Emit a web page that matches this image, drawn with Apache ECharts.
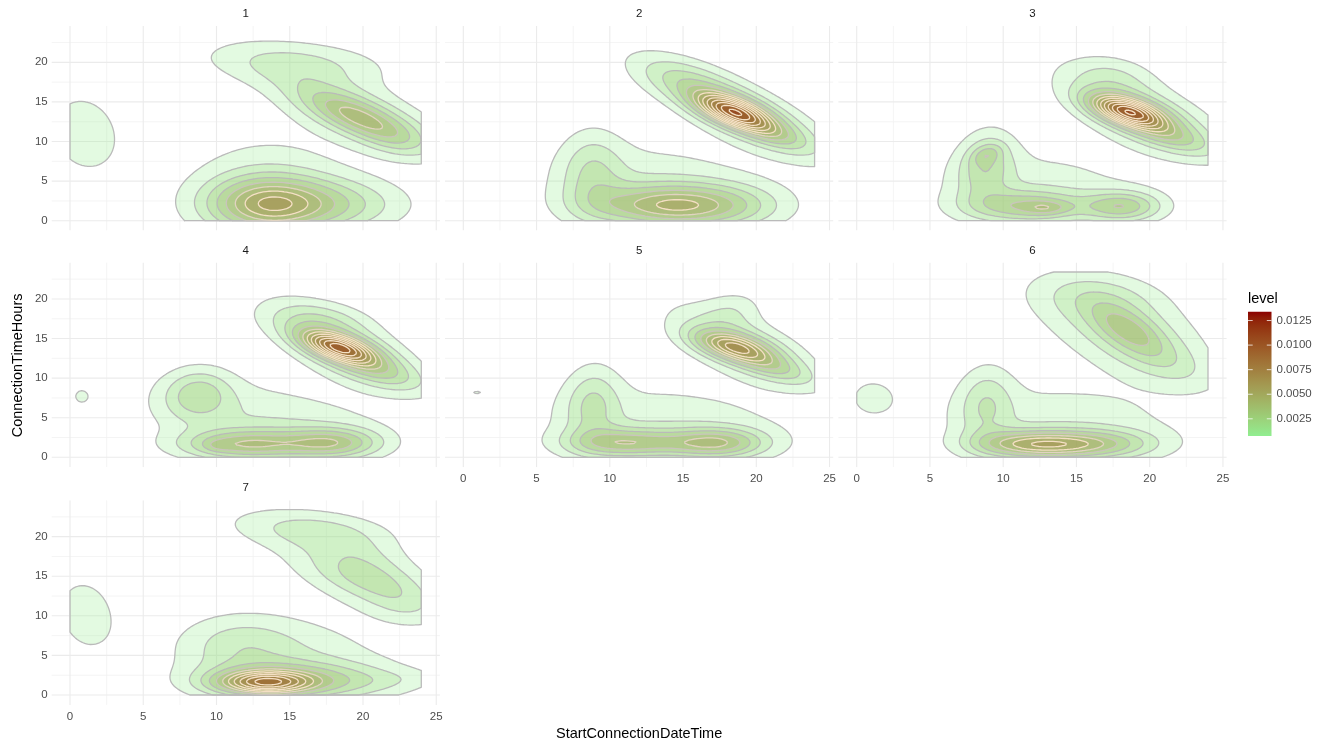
<!DOCTYPE html>
<html><head><meta charset="utf-8">
<script src="https://cdn.jsdelivr.net/npm/echarts@6/dist/echarts.min.js"></script>
<style>html,body{margin:0;padding:0;background:#fff}#c{width:1330px;height:744px}</style>
</head><body><div id="c"></div>
<script>
// ---------------- data ----------------
const facetLabels = ['1', '2', '3', '4', '5', '6', '7'];
const xMajorTicks = [0, 5, 10, 15, 20, 25];
const xMinorTicks = [2.5, 7.5, 12.5, 17.5, 22.5];
const yMajorTicks = [0, 5, 10, 15, 20];
const yMinorTicks = [2.5, 7.5, 12.5, 17.5, 22.5];
const contourLevels = [0.001, 0.002, 0.003, 0.004, 0.005, 0.006, 0.007, 0.008, 0.009, 0.010, 0.011, 0.012, 0.013];
const legendTicks = [0.0025, 0.0050, 0.0075, 0.0100, 0.0125];
const levelRange = [0.00075, 0.0134];
const dataRangeX = [0, 23.98];
const dataRangeY = [0, 23.4];
// density bumps per facet: [peak density, centre x, centre y, spread along tilt, spread across, tilt deg]
const facet1Bumps = [
  [0.0016, 1.0, 11.0, 4.2, 2.0, 95],
  [0.0019, 15.5, 20.0, 4.5, 2.0, -8],
  [0.0022, 19.5, 14.0, 5.5, 2.2, -40],
  [0.0043, 19.7, 13.0, 3.2, 1.3, -42],
  [0.0010, 22.5, 10.0, 2.0, 1.5, -40],
  [0.0042, 13.2, 2.1, 2.6, 2.4, 0],
  [0.0038, 16.5, 2.0, 4.0, 2.3, 0],
  [0.0015, 13.5, 4.5, 4.2, 5.2, 0]
];
const facet2Bumps = [
  [0.0034, 18.8, 14.0, 5.6, 1.9, -45],
  [0.0016, 15.0, 17.6, 2.8, 1.5, -40],
  [0.0088, 18.4, 13.8, 2.1, 1.05, -40],
  [0.0026, 20.8, 11.3, 2.3, 1.0, -40],
  [0.0052, 13.8, 1.9, 3.5, 1.8, 0],
  [0.0020, 18.0, 1.8, 3.0, 2.0, 0],
  [0.0022, 8.8, 6.0, 3.8, 1.5, 90],
  [0.0016, 13.0, 4.5, 5.5, 4.0, -10]
];
const facet3Bumps = [
  [0.0032, 19.5, 13.5, 4.8, 2.2, -45],
  [0.0012, 17.5, 18.5, 2.2, 1.8, -30],
  [0.0095, 18.5, 13.8, 2.0, 1.05, -35],
  [0.0026, 21.3, 10.8, 2.5, 1.1, -35],
  [0.0038, 11.5, 1.8, 2.8, 1.4, 0],
  [0.0015, 13.0, 1.6, 1.0, 0.6, 0],
  [0.0040, 18.2, 1.8, 1.8, 1.3, 0],
  [0.0030, 8.8, 7.0, 3.0, 1.3, 85],
  [0.0016, 8.9, 8.4, 0.9, 0.6, 60],
  [0.0015, 12.5, 4.0, 5.5, 3.8, -10]
];
const facet4Bumps = [
  [0.00096, 0.75, 7.7, 1.7, 0.95, 90],
  [0.0032, 18.6, 14.2, 4.6, 2.1, -48],
  [0.0012, 16.8, 17.5, 2.5, 1.5, -10],
  [0.0088, 18.3, 13.9, 2.0, 1.0, -35],
  [0.0025, 21.0, 11.0, 2.6, 1.2, -35],
  [0.0048, 12.0, 1.6, 3.0, 1.3, 0],
  [0.0043, 18.0, 1.8, 2.2, 1.3, 0],
  [0.0008, 10.1, 1.5, 0.6, 0.5, 0],
  [0.0028, 8.7, 8.0, 2.2, 1.6, 85],
  [0.0016, 11.5, 5.0, 5.0, 3.5, -25],
  [0.0008, 18.0, 3.5, 4.0, 3.0, -10]
];
const facet5Bumps = [
  [0.00088, 0.9, 8.2, 0.8, 0.6, 0],
  [0.0030, 19.0, 14.2, 4.3, 2.0, -45],
  [0.0012, 18.5, 18.8, 1.8, 1.4, 70],
  [0.0060, 18.4, 14.0, 2.0, 1.05, -30],
  [0.0024, 21.0, 11.5, 2.3, 1.0, -35],
  [0.0037, 10.5, 1.8, 2.5, 1.3, 0],
  [0.0042, 17.5, 1.8, 2.2, 1.3, 0],
  [0.0018, 14.0, 1.8, 3.0, 1.2, 0],
  [0.0024, 8.8, 6.8, 3.4, 1.3, 88],
  [0.0016, 14.0, 4.2, 6.5, 3.8, -8]
];
const facet6Bumps = [
  [0.0011, 1.0, 7.6, 2.6, 1.7, 90],
  [0.0025, 18.0, 16.5, 5.2, 3.0, -50],
  [0.0012, 16.5, 20.5, 3.0, 2.0, -10],
  [0.0030, 18.5, 16.2, 2.5, 1.2, -55],
  [0.0014, 21.0, 12.0, 3.0, 1.6, -45],
  [0.0060, 13.2, 1.6, 3.0, 1.2, 0],
  [0.0020, 17.5, 1.7, 2.5, 1.3, 0],
  [0.0015, 10.5, 1.7, 2.0, 1.2, 0],
  [0.0022, 8.8, 6.8, 3.4, 1.3, 88],
  [0.0016, 14.0, 4.2, 6.2, 3.8, -8]
];
const facet7Bumps = [
  [0.0014, 1.1, 10.2, 4.4, 1.9, 95],
  [0.0020, 16.5, 21.0, 4.0, 1.8, -10],
  [0.0018, 20.0, 15.0, 5.0, 2.4, -38],
  [0.0016, 20.5, 14.5, 3.0, 1.5, -38],
  [0.0008, 22.8, 11.0, 2.0, 1.5, -40],
  [0.0008, 20.0, 18.0, 2.5, 1.5, -40],
  [0.0068, 13.3, 1.6, 2.2, 1.0, 0],
  [0.0026, 13.5, 1.8, 3.5, 1.6, 0],
  [0.0018, 18.5, 1.8, 3.5, 1.6, 0],
  [0.0018, 15.0, 4.0, 5.0, 4.0, -8],
  [0.0016, 11.5, 6.5, 2.8, 2.6, 0],
  [0.0005, 23.0, 2.0, 2.5, 0.9, 5]
];
const facetBumps = [facet1Bumps, facet2Bumps, facet3Bumps, facet4Bumps, facet5Bumps, facet6Bumps, facet7Bumps];

// ---------------- layout & style ----------------
const colLeft = [51.7, 445.0, 838.4];
const rowTop = [25.9, 262.5, 500.2];
const panelW = 388.2, panelH = 204.7;
const facetRC = [[0, 0], [0, 1], [0, 2], [1, 0], [1, 1], [1, 2], [2, 0]];
const xBottomLabelled = [false, false, false, false, true, true, true];
const xExt = [-1.25, 25.25], yExt = [-1.25, 24.6];
const FONT = '"Liberation Sans", Arial, Helvetica, sans-serif';
const FILL_ALPHA = 0.26;
const LOW = '#90EE90', HIGH = '#8B0000';

// ---------------- colour helpers (Lab interpolation like ggplot) ----------------
function hex2rgb(h) { return [parseInt(h.slice(1, 3), 16), parseInt(h.slice(3, 5), 16), parseInt(h.slice(5, 7), 16)]; }
function toLin(c) { c /= 255; return c <= 0.04045 ? c / 12.92 : Math.pow((c + 0.055) / 1.055, 2.4); }
function fromLin(c) { c = c <= 0.0031308 ? 12.92 * c : 1.055 * Math.pow(c, 1 / 2.4) - 0.055; return Math.round(Math.max(0, Math.min(1, c)) * 255); }
function rgb2lab(rgb) {
  const R = toLin(rgb[0]), G = toLin(rgb[1]), B = toLin(rgb[2]);
  const X = (0.4124 * R + 0.3576 * G + 0.1805 * B) / 0.95047;
  const Y = (0.2126 * R + 0.7152 * G + 0.0722 * B);
  const Z = (0.0193 * R + 0.1192 * G + 0.9505 * B) / 1.08883;
  const f = t => t > 0.008856 ? Math.cbrt(t) : 7.787 * t + 16 / 116;
  const fx = f(X), fy = f(Y), fz = f(Z);
  return [116 * fy - 16, 500 * (fx - fy), 200 * (fy - fz)];
}
function lab2rgb(lab) {
  const fy = (lab[0] + 16) / 116, fx = fy + lab[1] / 500, fz = fy - lab[2] / 200;
  const fi = t => t > 0.206893 ? t * t * t : (t - 16 / 116) / 7.787;
  const X = fi(fx) * 0.95047, Y = fi(fy), Z = fi(fz) * 1.08883;
  const R = 3.2406 * X - 1.5372 * Y - 0.4986 * Z;
  const G = -0.9689 * X + 1.8758 * Y + 0.0415 * Z;
  const B = 0.0557 * X - 0.2040 * Y + 1.0570 * Z;
  return [fromLin(R), fromLin(G), fromLin(B)];
}
const labLow = rgb2lab(hex2rgb(LOW)), labHigh = rgb2lab(hex2rgb(HIGH));
function rampRGB(t) {
  t = Math.max(0, Math.min(1, t));
  return lab2rgb([0, 1, 2].map(k => labLow[k] + (labHigh[k] - labLow[k]) * t));
}
function levelT(v) { return (v - levelRange[0]) / (levelRange[1] - levelRange[0]); }
function mixHex(a, b, s) { const A = hex2rgb(a), B = hex2rgb(b); return 'rgb(' + A.map((x, k) => Math.round(x + (B[k] - x) * s)).join(',') + ')'; }
function lineColor(t) { const s = Math.max(0, Math.min(1, (t - 0.28) / 0.2)); return mixHex('#bababa', '#f4dfc4', s); }

// ---------------- density grids ----------------
const N = 121;
function densityGrid(bumps) {
  const xs = [], ys = [];
  for (let i = 0; i < N; i++) {
    xs.push(dataRangeX[0] + (dataRangeX[1] - dataRangeX[0]) * i / (N - 1));
    ys.push(dataRangeY[0] + (dataRangeY[1] - dataRangeY[0]) * i / (N - 1));
  }
  const pre = bumps.map(b => { const t = b[5] * Math.PI / 180; return { p: b[0], cx: b[1], cy: b[2], a: b[3], b: b[4], c: Math.cos(t), s: Math.sin(t) }; });
  const Z = [];
  for (let j = 0; j < N; j++) {
    const row = new Float64Array(N);
    for (let i = 0; i < N; i++) {
      let v = 0;
      for (const k of pre) {
        const dx = xs[i] - k.cx, dy = ys[j] - k.cy;
        const u = (dx * k.c + dy * k.s) / k.a, w = (-dx * k.s + dy * k.c) / k.b;
        v += k.p * Math.exp(-0.5 * (u * u + w * w));
      }
      row[i] = v;
    }
    Z.push(row);
  }
  return { xs, ys, Z };
}
const grids = facetBumps.map(densityGrid);

function levelPaths(G, L, coord) {
  const xs = G.xs, ys = G.ys, Z = G.Z, nx = xs.length, ny = ys.length;
  const f = [], l = [];
  const pt = (x, y) => { const c = coord([x, y]); return c[0].toFixed(2) + ' ' + c[1].toFixed(2); };
  const lerp = (p, q) => { const t = (L - p[2]) / (q[2] - p[2]); return [p[0] + (q[0] - p[0]) * t, p[1] + (q[1] - p[1]) * t]; };
  const rectPath = (i0, i1, j) => 'M' + pt(xs[i0], ys[j]) + 'L' + pt(xs[i1], ys[j]) + 'L' + pt(xs[i1], ys[j + 1]) + 'L' + pt(xs[i0], ys[j + 1]) + 'Z';
  for (let j = 0; j < ny - 1; j++) {
    let run = -1;
    for (let i = 0; i < nx - 1; i++) {
      const cs = [[xs[i], ys[j], Z[j][i]], [xs[i + 1], ys[j], Z[j][i + 1]], [xs[i + 1], ys[j + 1], Z[j + 1][i + 1]], [xs[i], ys[j + 1], Z[j + 1][i]]];
      const ins = cs.map(c => c[2] >= L);
      const nIn = (ins[0] ? 1 : 0) + (ins[1] ? 1 : 0) + (ins[2] ? 1 : 0) + (ins[3] ? 1 : 0);
      if (nIn === 4) { if (run < 0) run = i; }
      else {
        if (run >= 0) { f.push(rectPath(run, i, j)); run = -1; }
        if (nIn > 0) {
          const poly = [];
          for (let k = 0; k < 4; k++) {
            const a = cs[k], b = cs[(k + 1) % 4];
            if (ins[k]) poly.push({ p: [a[0], a[1]], x: false });
            if (ins[k] !== ins[(k + 1) % 4]) poly.push({ p: lerp(a, b), x: true });
          }
          f.push('M' + poly.map(q => pt(q.p[0], q.p[1])).join('L') + 'Z');
          for (let m = 0; m < poly.length; m++) {
            const q1 = poly[m], q2 = poly[(m + 1) % poly.length];
            if (q1.x && q2.x) l.push('M' + pt(q1.p[0], q1.p[1]) + 'L' + pt(q2.p[0], q2.p[1]));
          }
        }
      }
      if (nIn > 0) {
        const edge = (ka, kb) => {
          const a = cs[ka], b = cs[kb], ia = ins[ka], ib = ins[kb];
          if (!ia && !ib) return;
          let p = [a[0], a[1]], q = [b[0], b[1]];
          if (ia && !ib) q = lerp(a, b); else if (!ia && ib) p = lerp(a, b);
          l.push('M' + pt(p[0], p[1]) + 'L' + pt(q[0], q[1]));
        };
        if (j === 0) edge(0, 1);
        if (i === nx - 2) edge(1, 2);
        if (j === ny - 2) edge(2, 3);
        if (i === 0) edge(3, 0);
      }
    }
    if (run >= 0) f.push(rectPath(run, nx - 1, j));
  }
  return { fill: f.join(''), line: l.join('') };
}

function makeRender(fi) {
  return function (params, api) {
    const coord = p => api.coord(p);
    const children = [];
    const gridLines = (vals, vertical, color, w) => {
      let d = '';
      for (const v of vals) {
        const a = vertical ? coord([v, yExt[0]]) : coord([xExt[0], v]);
        const b = vertical ? coord([v, yExt[1]]) : coord([xExt[1], v]);
        d += 'M' + a[0] + ' ' + a[1] + 'L' + b[0] + ' ' + b[1];
      }
      children.push({ type: 'path', silent: true, shape: { pathData: d }, style: { fill: 'none', stroke: color, lineWidth: w } });
    };
    gridLines(xMinorTicks, true, '#f1f1f1', 0.8);
    gridLines(yMinorTicks, false, '#f1f1f1', 0.8);
    gridLines(xMajorTicks, true, '#ebebeb', 1.1);
    gridLines(yMajorTicks, false, '#ebebeb', 1.1);
    const G = grids[fi];
    for (const L of contourLevels) {
      const t = levelT(L);
      const rgb = rampRGB(t);
      const P = levelPaths(G, L, coord);
      if (!P.fill) continue;
      children.push({ type: 'path', silent: true, shape: { pathData: P.fill }, style: { fill: 'rgba(' + rgb.join(',') + ',' + FILL_ALPHA + ')', stroke: null } });
      children.push({ type: 'path', silent: true, shape: { pathData: P.line }, style: { fill: 'none', stroke: lineColor(t), lineWidth: 1.3, lineCap: 'round', lineJoin: 'round' } });
    }
    return { type: 'group', children };
  };
}

const isMult5 = v => Math.abs(v / 5 - Math.round(v / 5)) < 1e-6;
const gridOpt = [], xAxisOpt = [], yAxisOpt = [], seriesOpt = [], graphicOpt = [];
facetRC.forEach((rc, fi) => {
  const left = colLeft[rc[1]], top = rowTop[rc[0]];
  gridOpt.push({ left, top, width: panelW, height: panelH, containLabel: false, outerBoundsMode: 'none' });
  xAxisOpt.push({
    type: 'value', gridIndex: fi, min: xExt[0], max: xExt[1], interval: 1.25,
    axisLine: { show: false }, axisTick: { show: false }, splitLine: { show: false },
    axisLabel: { show: xBottomLabelled[fi], interval: 0, margin: 6, color: '#4d4d4d', fontSize: 11.5, fontFamily: FONT, formatter: v => isMult5(v) ? String(Math.round(v)) : '' }
  });
  yAxisOpt.push({
    type: 'value', gridIndex: fi, min: yExt[0], max: yExt[1], interval: 1.25,
    axisLine: { show: false }, axisTick: { show: false }, splitLine: { show: false },
    axisLabel: { show: rc[1] === 0, interval: 0, margin: 4, color: '#4d4d4d', fontSize: 11.5, fontFamily: FONT, formatter: v => (isMult5(v) && v >= 0 && v <= 20) ? String(Math.round(v)) : '' }
  });
  seriesOpt.push({
    type: 'custom', xAxisIndex: fi, yAxisIndex: fi, coordinateSystem: 'cartesian2d',
    data: [[0, 0]], clip: true, silent: true, animation: false, renderItem: makeRender(fi)
  });
  graphicOpt.push({ type: 'text', x: left + panelW / 2, y: top - 12, silent: true,
    style: { text: facetLabels[fi], fill: '#1a1a1a', fontSize: 11.5, fontFamily: FONT, align: 'center', verticalAlign: 'middle' } });
});

// axis titles
graphicOpt.push({ type: 'text', x: colLeft[1] + panelW / 2, y: 734, silent: true,
  style: { text: 'StartConnectionDateTime', fill: '#000', fontSize: 14.5, fontFamily: FONT, align: 'center', verticalAlign: 'middle' } });
graphicOpt.push({ type: 'text', x: 18, y: (rowTop[0] + rowTop[2] + panelH) / 2, rotation: Math.PI / 2, silent: true,
  style: { text: 'ConnectionTimeHours', fill: '#000', fontSize: 14.5, fontFamily: FONT, align: 'center', verticalAlign: 'middle' } });

// legend (colour bar)
const barX = 1248, barTop = 311.7, barW = 23.5, barH = 124.3;
const stops = [];
for (let k = 0; k <= 20; k++) { const t = k / 20; const c = rampRGB(t); stops.push({ offset: 1 - t, color: 'rgb(' + c.join(',') + ')' }); }
stops.sort((a, b) => a.offset - b.offset);
graphicOpt.push({ type: 'text', x: barX, y: 299, silent: true,
  style: { text: 'level', fill: '#000', fontSize: 14.5, fontFamily: FONT, align: 'left', verticalAlign: 'middle' } });
graphicOpt.push({ type: 'rect', silent: true, shape: { x: barX, y: barTop, width: barW, height: barH },
  style: { fill: new echarts.graphic.LinearGradient(0, 0, 0, 1, stops) } });
legendTicks.forEach(v => {
  const y = barTop + barH * (1 - levelT(v));
  graphicOpt.push({ type: 'line', silent: true, shape: { x1: barX, y1: y, x2: barX + barW * 0.2, y2: y }, style: { stroke: 'rgba(255,255,255,0.75)', lineWidth: 1 } });
  graphicOpt.push({ type: 'line', silent: true, shape: { x1: barX + barW * 0.8, y1: y, x2: barX + barW, y2: y }, style: { stroke: 'rgba(255,255,255,0.75)', lineWidth: 1 } });
  graphicOpt.push({ type: 'text', x: barX + barW + 5, y, silent: true,
    style: { text: v.toFixed(4), fill: '#4d4d4d', fontSize: 11.5, fontFamily: FONT, align: 'left', verticalAlign: 'middle' } });
});

const chart = echarts.init(document.getElementById('c'), null, { renderer: 'canvas' });
chart.setOption({
  backgroundColor: '#fff', animation: false,
  grid: gridOpt, xAxis: xAxisOpt, yAxis: yAxisOpt, series: seriesOpt, graphic: graphicOpt
});
</script></body></html>
